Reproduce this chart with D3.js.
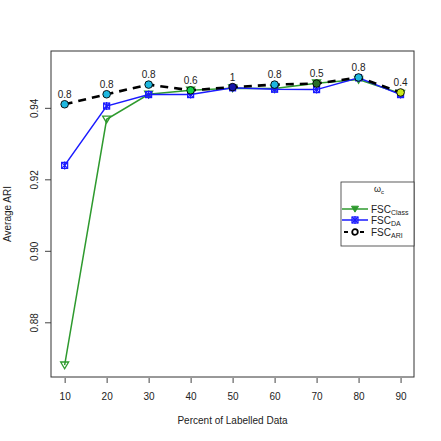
<!DOCTYPE html>
<html>
<head>
<meta charset="utf-8">
<script src="https://cdn.jsdelivr.net/npm/d3@7"></script>
<style>
  body { margin: 0; background: #fff; }
  text { font-family: "Liberation Sans", Arial, sans-serif; fill: #222; }
</style>
</head>
<body>
<svg width="441" height="441"></svg>
<script>
// data
const percents = [10, 20, 30, 40, 50, 60, 70, 80, 90];
const fscClass = [0.8680, 0.9368, 0.9438, 0.9449, 0.9455, 0.9454, 0.9469, 0.9479, 0.9440];
const fscDA    = [0.9239, 0.9405, 0.9437, 0.9437, 0.9456, 0.9452, 0.9451, 0.9484, 0.9437];
const fscARI   = [0.9410, 0.9438, 0.9465, 0.9449, 0.9458, 0.9465, 0.9468, 0.9485, 0.9443];
const omega    = ["0.8", "0.8", "0.8", "0.6", "1", "0.8", "0.5", "0.8", "0.4"];
const yTicks   = [0.88, 0.90, 0.92, 0.94];

const omegaColor = {
  "0.4": "#c8e81a",
  "0.5": "#2a6e2a",
  "0.6": "#12d048",
  "0.8": "#1eb8e0",
  "1": "#1515a8"
};

const svg = d3.select("svg");
const margin = { top: 51, right: 27, bottom: 64, left: 51 };
const width = 441 - margin.left - margin.right;
const height = 441 - margin.top - margin.bottom;

const x = d3.scaleLinear().domain([6.75, 93.2]).range([0, width]);
const y = d3.scaleLinear().domain([0.8647, 0.9559]).range([height, 0]);

const g = svg.append("g")
    .attr("transform", `translate(${margin.left},${margin.top})`);

// axes
const xAxis = g.append("g")
    .attr("transform", `translate(0,${height})`)
    .call(d3.axisBottom(x).tickValues(percents).tickSize(6).tickPadding(10));
const yAxis = g.append("g")
    .call(d3.axisLeft(y).tickValues(yTicks).tickSize(6).tickPadding(6).tickFormat(d3.format(".2f")));

[xAxis, yAxis].forEach(a => {
  a.select(".domain").remove();
  a.selectAll("line").attr("stroke", "#444");
  a.selectAll("text").attr("font-size", 10).style("fill", "#222");
});
xAxis.selectAll("line").attr("y1", 1);
yAxis.selectAll("text")
    .attr("transform", function () {
      const t = d3.select(this);
      return `rotate(-90, ${+t.attr("x")}, 0)`;
    })
    .attr("text-anchor", "middle")
    .attr("dy", "-0.1em")
    .attr("x", -12);

// labels
svg.append("text")
    .attr("x", margin.left + width / 2).attr("y", 424)
    .attr("text-anchor", "middle").attr("font-size", 10)
    .text("Percent of Labelled Data");
svg.append("text")
    .attr("transform", `translate(11,${margin.top + height / 2}) rotate(-90)`)
    .attr("text-anchor", "middle").attr("font-size", 10)
    .text("Average ARI");

const line = d3.line().x((d, i) => x(percents[i])).y(d => y(d));

// FSC Class
g.append("path").datum(fscClass)
    .attr("d", line).attr("fill", "none")
    .attr("stroke", "#2e9a2e").attr("stroke-width", 1.5);

const tri = s => `M${-s},${-s * 0.8}L${s},${-s * 0.8}L0,${s * 0.9}Z`;
g.selectAll(".tri").data(fscClass).enter().append("path")
    .attr("class", "tri")
    .attr("transform", (d, i) => `translate(${x(percents[i])},${y(d)})`)
    .attr("d", tri(4))
    .attr("fill", "none").attr("stroke", "#2e9a2e").attr("stroke-width", 1.3);

// FSC DA
g.append("path").datum(fscDA)
    .attr("d", line).attr("fill", "none")
    .attr("stroke", "#1a1aff").attr("stroke-width", 1.5);

const daMark = (sel, s) => {
  sel.append("rect").attr("x", -s).attr("y", -s).attr("width", 2 * s).attr("height", 2 * s)
      .attr("fill", "none").attr("stroke", "#1a1aff").attr("stroke-width", 1.2);
  sel.append("path").attr("d", `M${-s},${-s}L${s},${s}M${-s},${s}L${s},${-s}M0,${-s - 1}L0,${s + 1}`)
      .attr("stroke", "#1a1aff").attr("stroke-width", 1.2);
};
g.selectAll(".da").data(fscDA).enter().append("g")
    .attr("class", "da")
    .attr("transform", (d, i) => `translate(${x(percents[i])},${y(d)})`)
    .call(daMark, 3);

// FSC ARI
g.append("path").datum(fscARI)
    .attr("d", line).attr("fill", "none")
    .attr("stroke", "#000").attr("stroke-width", 2.6)
    .attr("stroke-dasharray", "8,6");

g.selectAll(".ari").data(fscARI).enter().append("circle")
    .attr("class", "ari")
    .attr("cx", (d, i) => x(percents[i]))
    .attr("cy", d => y(d))
    .attr("r", 3.8)
    .attr("fill", (d, i) => omegaColor[omega[i]])
    .attr("stroke", "#000").attr("stroke-width", 0.9);

g.selectAll(".om").data(fscARI).enter().append("text")
    .attr("class", "om")
    .attr("x", (d, i) => x(percents[i]))
    .attr("y", d => y(d) - 6.5)
    .attr("text-anchor", "middle").attr("font-size", 10)
    .text((d, i) => omega[i]);

// legend
const lg = svg.append("g").attr("transform", "translate(341,182)");
lg.append("rect").attr("width", 73).attr("height", 64)
    .attr("fill", "#fff").attr("stroke", "#333").attr("stroke-width", 0.8);

const title = lg.append("text").attr("x", 33).attr("y", 10).attr("font-size", 9);
title.append("tspan").text("ω");
title.append("tspan").attr("font-size", 6).attr("dy", 2).text("c");

const rows = [
  { name: "Class", color: "#2e9a2e", y: 27 },
  { name: "DA", color: "#1a1aff", y: 38 },
  { name: "ARI", color: "#000", y: 50 }
];
rows.forEach((r, k) => {
  const row = lg.append("g").attr("transform", `translate(0,${r.y})`);
  if (k === 2) {
    row.append("line").attr("x1", 3).attr("x2", 24)
        .attr("stroke", "#000").attr("stroke-width", 2.2).attr("stroke-dasharray", "4,4");
    row.append("circle").attr("cx", 14).attr("r", 2.8)
        .attr("fill", "#fff").attr("stroke", "#000").attr("stroke-width", 1.8);
  } else {
    row.append("line").attr("x1", 1).attr("x2", 27)
        .attr("stroke", r.color).attr("stroke-width", 1.5);
    if (k === 0) {
      row.append("path").attr("transform", "translate(14,0)").attr("d", tri(3.5))
          .attr("fill", r.color).attr("stroke", r.color);
    } else {
      row.append("g").attr("transform", "translate(14,0)").call(daMark, 3);
    }
  }
  const t = row.append("text").attr("x", 30).attr("dy", "0.35em").attr("font-size", 10);
  t.append("tspan").text("FSC");
  t.append("tspan").attr("font-size", 7).attr("dy", 2.5).text(r.name);
});

// plot frame drawn last so it sits over the legend edge
g.append("rect")
    .attr("width", width).attr("height", height)
    .attr("fill", "none").attr("stroke", "#333").attr("stroke-width", 1);
</script>
</body>
</html>
